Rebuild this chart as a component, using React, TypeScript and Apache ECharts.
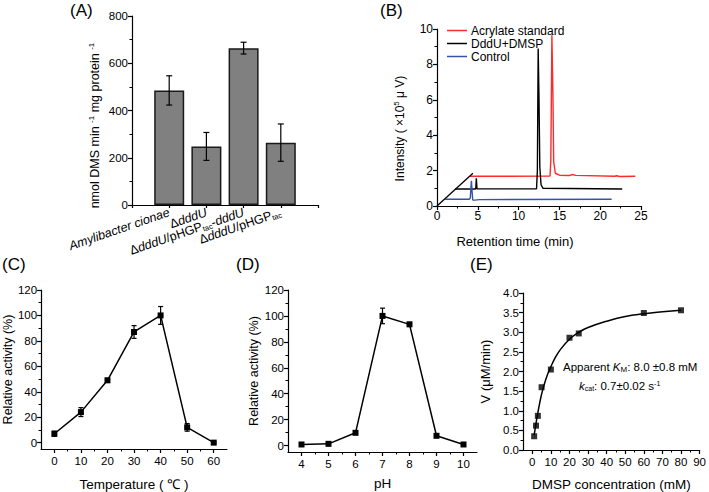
import React, { useEffect, useRef } from 'react';
import * as echarts from 'echarts';

const FONT = '"Liberation Sans", Arial, Helvetica, sans-serif';

// ---------- Panel A ----------
const strainLabels = ['Amylibacter cionae', 'ΔdddU', 'ΔdddU/pHGPtac-dddU', 'ΔdddU/pHGPtac'];
const strainPos = [1, 2, 3, 4];
const activityMean = [485, 248, 664, 264];
const activityErr = [62, 59, 25, 79];

// ---------- Panel B ----------
const acrylateTrace = [[4.05, 1.68], [13.85, 1.69], [13.95, 2.6], [14.08, 9.64], [14.2, 6.5], [14.3, 2.5], [14.5, 1.85], [15.0, 1.74], [16.2, 1.72], [16.6, 1.78], [17.0, 1.73], [21.8, 1.68], [22.0, 1.71], [22.4, 1.67], [24.3, 1.68]];
const dddUTrace = [[2.2, 0.96], [4.75, 0.96], [4.82, 1.57], [4.9, 0.97], [12.2, 0.97], [12.3, 2.0], [12.4, 8.9], [12.5, 6.0], [12.6, 2.2], [12.75, 1.2], [13.0, 1.0], [22.7, 0.96]];
const controlTrace = [[1.0, 0.38], [3.95, 0.38], [4.08, 0.45], [4.15, 1.0], [4.22, 1.42], [4.3, 0.8], [4.38, 0.34], [4.6, 0.33], [5.2, 0.36], [8.8, 0.37], [21.4, 0.38]];
const depthLine = [[0, 0], [4.4, 1.85]];

// ---------- Panel C ----------
const temperature = [0, 10, 20, 30, 40, 50, 60];
const tempActivity = [7, 24, 49, 87, 100, 12, 0];
const tempErr = [2, 3.5, 1.5, 5, 7, 3, 0.5];

// ---------- Panel D ----------
const pH = [4, 5, 6, 7, 8, 9, 10];
const pHActivity = [0.8, 1.3, 9.8, 100, 93.5, 7.5, 0.8];
const pHErr = [0.5, 0.5, 1, 6, 1.5, 0.8, 0.5];

// ---------- Panel E ----------
const dmsp = [1, 2, 3, 5, 10, 20, 25, 60, 80];
const velocity = [0.35, 0.62, 0.87, 1.6, 2.05, 2.86, 2.97, 3.49, 3.56];
const fitX = [1, 2, 3, 4, 5, 6, 8, 10, 12, 15, 20, 25, 30, 40, 50, 60, 70, 80];
const fitY = [0.38, 0.68, 0.95, 1.2, 1.42, 1.6, 1.9, 2.12, 2.32, 2.55, 2.82, 3.0, 3.12, 3.28, 3.4, 3.47, 3.52, 3.56];

function richStrain(s: string) {
  if (s === 'Amylibacter cionae') return `{i|${s}}`;
  return s
    .split(/(dddU|tac)/)
    .filter(Boolean)
    .map((p) => (p === 'dddU' ? '{i|dddU}' : p === 'tac' ? '{s|tac}' : `{n|${p}}`))
    .join('');
}

const LINE = { color: '#000', width: 1.2 };

function mainAxis(extra: any) {
  return {
    type: 'value',
    axisLine: { show: true, onZero: false, lineStyle: LINE },
    axisTick: { show: true, length: 4, lineStyle: LINE },
    axisLabel: { color: '#000', fontSize: 11, fontFamily: FONT, margin: 4 },
    splitLine: { show: false },
    nameLocation: 'middle',
    nameTextStyle: { color: '#000', fontSize: 13, fontFamily: FONT },
    ...extra,
  };
}

function minorAxis(gridIndex: number, min: number, max: number, values: number[], position: string) {
  return {
    type: 'value',
    gridIndex,
    min,
    max,
    position,
    offset: 0,
    axisLine: { show: false, onZero: false },
    axisLabel: { show: false },
    splitLine: { show: false },
    axisTick: { show: true, length: 2.5, customValues: values, lineStyle: { color: '#000', width: 1 } },
  };
}

const MINOR = { show: true, splitNumber: 2, length: 2.5, lineStyle: { color: '#000', width: 1 } };

function errorBars(xAxisIndex: number, yAxisIndex: number, xs: number[], ys: number[], errs: number[], cap: number) {
  return {
    type: 'custom',
    xAxisIndex,
    yAxisIndex,
    silent: true,
    z: 4,
    data: xs.map((x, i) => [x, ys[i] - errs[i], ys[i] + errs[i]]),
    encode: { x: 0, y: [1, 2] },
    renderItem: (params: any, api: any) => {
      const x = api.value(0);
      const p1 = api.coord([x, api.value(1)]);
      const p2 = api.coord([x, api.value(2)]);
      const st = { stroke: '#000', lineWidth: 1.2 };
      return {
        type: 'group',
        children: [
          { type: 'line', shape: { x1: p1[0], y1: p1[1], x2: p2[0], y2: p2[1] }, style: st },
          { type: 'line', shape: { x1: p1[0] - cap, y1: p1[1], x2: p1[0] + cap, y2: p1[1] }, style: st },
          { type: 'line', shape: { x1: p2[0] - cap, y1: p2[1], x2: p2[0] + cap, y2: p2[1] }, style: st },
        ],
      };
    },
  };
}

function range(a: number, b: number, step: number) {
  const out: number[] = [];
  for (let v = a; v <= b + 1e-9; v += step) out.push(Math.round(v * 1000) / 1000);
  return out;
}

function buildOption() {
  const cMajX = range(0, 60, 10);
  const cMajY = range(0, 120, 20);
  const dMajX = range(4, 10, 1);
  const eMajX = range(0, 90, 10);

  const xAxis: any[] = [
    // 0: A
    mainAxis({
      gridIndex: 0, min: 0, max: 5, interval: 1, position: 'bottom',
      axisTick: { show: true, length: 3, lineStyle: LINE },
      axisLabel: {
        color: '#000', fontSize: 12.5, fontFamily: FONT, rotate: 19, margin: 7,
        formatter: (v: number) => {
          const i = strainPos.indexOf(v);
          return i < 0 ? '' : richStrain(strainLabels[i]);
        },
        rich: {
          i: { fontStyle: 'italic', fontSize: 12.5, fontFamily: FONT, color: '#000' },
          n: { fontSize: 12.5, fontFamily: FONT, color: '#000' },
          s: { fontSize: 7.5, fontFamily: FONT, color: '#000', verticalAlign: 'bottom', padding: [6, 0, 0, 0] },
        },
      },
    }),
    // 1: B
    mainAxis({
      gridIndex: 1, min: 0, max: 25, interval: 5, position: 'bottom', minorTick: MINOR,
      name: 'Retention time (min)', nameGap: 29,
      nameTextStyle: { color: '#000', fontSize: 13, fontFamily: FONT, padding: [0, 48, 0, 0] },
      axisLabel: { color: '#000', fontSize: 12, fontFamily: FONT, margin: 4 },
    }),
    // 2: C main
    mainAxis({
      gridIndex: 2, min: -5, max: 65, position: 'bottom',
      axisTick: { show: true, length: 4, lineStyle: LINE, customValues: cMajX },
      axisLabel: { color: '#000', fontSize: 11.5, fontFamily: FONT, margin: 6, customValues: cMajX },
      name: 'Temperature ( ℃ )', nameGap: 28,
      nameTextStyle: { color: '#000', fontSize: 13.5, fontFamily: FONT },
    }),
    // 3: C minor
    minorAxis(2, -5, 65, range(5, 55, 10), 'bottom'),
    // 4: D main
    mainAxis({
      gridIndex: 3, min: 3.5, max: 10.5, position: 'bottom',
      axisTick: { show: true, length: 4, lineStyle: LINE, customValues: dMajX },
      axisLabel: { color: '#000', fontSize: 11.5, fontFamily: FONT, margin: 6, customValues: dMajX },
      name: 'pH', nameGap: 24,
      nameTextStyle: { color: '#000', fontSize: 13.5, fontFamily: FONT },
    }),
    // 5: D minor
    minorAxis(3, 3.5, 10.5, range(4.5, 9.5, 1), 'bottom'),
    // 6: E main
    mainAxis({
      gridIndex: 4, min: -5, max: 90, position: 'bottom',
      axisTick: { show: true, length: 4, lineStyle: LINE, customValues: eMajX },
      axisLabel: { color: '#000', fontSize: 11.5, fontFamily: FONT, margin: 6, customValues: eMajX },
      name: 'DMSP concentration (mM)', nameGap: 27,
      nameTextStyle: { color: '#000', fontSize: 13.5, fontFamily: FONT },
    }),
    // 7: E minor
    minorAxis(4, -5, 90, range(5, 85, 10), 'bottom'),
  ];

  const yAxis: any[] = [
    // 0: A
    mainAxis({
      gridIndex: 0, min: 0, max: 800, interval: 200, position: 'left', minorTick: MINOR,
      axisLabel: { color: '#000', fontSize: 11.5, fontFamily: FONT, margin: 4 },
      name: '{n|nmol DMS min }{sup|-1}{n| mg protein }{sup|-1}', nameGap: 30,
      nameTextStyle: {
        color: '#000', fontSize: 12.5, fontFamily: FONT, padding: [0, 30, 0, 0],
        rich: {
          n: { fontSize: 12.5, fontFamily: FONT, color: '#000' },
          sup: { fontSize: 8, fontFamily: FONT, color: '#000', verticalAlign: 'top', padding: [0, 0, 7, 0] },
        },
      },
    }),
    // 1: B
    mainAxis({
      gridIndex: 1, min: 0, max: 10, interval: 2, position: 'left', minorTick: MINOR,
      axisLabel: { color: '#000', fontSize: 12, fontFamily: FONT, margin: 4 },
      name: '{n|Intensity ( ×10}{sup|5}{n| μ V)}', nameGap: 30,
      nameTextStyle: {
        color: '#000', fontSize: 12, fontFamily: FONT, padding: [0, 22, 0, 0],
        rich: {
          n: { fontSize: 12, fontFamily: FONT, color: '#000' },
          sup: { fontSize: 8, fontFamily: FONT, color: '#000', verticalAlign: 'top', padding: [0, 0, 7, 0] },
        },
      },
    }),
    // 2: C main
    mainAxis({
      gridIndex: 2, min: -5, max: 120, position: 'left',
      axisTick: { show: true, length: 4, lineStyle: LINE, customValues: cMajY },
      axisLabel: { color: '#000', fontSize: 11.5, fontFamily: FONT, margin: 4, customValues: cMajY },
      name: 'Relative activity (%)', nameGap: 24,
      nameTextStyle: { color: '#000', fontSize: 12.5, fontFamily: FONT },
    }),
    // 3: C minor
    minorAxis(2, -5, 120, range(10, 110, 20), 'left'),
    // 4: D main
    mainAxis({
      gridIndex: 3, min: -5, max: 120, position: 'left',
      axisTick: { show: true, length: 4, lineStyle: LINE, customValues: cMajY },
      axisLabel: { color: '#000', fontSize: 11.5, fontFamily: FONT, margin: 4, customValues: cMajY },
      name: 'Relative activity (%)', nameGap: 24,
      nameTextStyle: { color: '#000', fontSize: 12.5, fontFamily: FONT },
    }),
    // 5: D minor
    minorAxis(3, -5, 120, range(10, 110, 20), 'left'),
    // 6: E
    mainAxis({
      gridIndex: 4, min: 0, max: 4, interval: 0.5, position: 'left', minorTick: MINOR,
      axisLabel: { color: '#000', fontSize: 11.5, fontFamily: FONT, margin: 4, formatter: (v: number) => v.toFixed(1) },
      name: 'V (μM/min)', nameGap: 31,
      nameTextStyle: { color: '#000', fontSize: 13, fontFamily: FONT },
    }),
  ];

  const series: any[] = [
    // A bars
    {
      type: 'bar', xAxisIndex: 0, yAxisIndex: 0, barWidth: 30,
      data: strainPos.map((x, i) => [x, activityMean[i]]),
      itemStyle: { color: '#808080', borderColor: '#1a1a1a', borderWidth: 1.5 },
      z: 2,
    },
    errorBars(0, 0, strainPos, activityMean, activityErr, 3),
    // B traces
    {
      name: 'Acrylate standard', type: 'line', xAxisIndex: 1, yAxisIndex: 1, data: acrylateTrace,
      showSymbol: false, symbol: 'none', lineStyle: { color: '#ff2a2a', width: 1.4 }, itemStyle: { color: '#ff2a2a' },
    },
    {
      name: 'DddU+DMSP', type: 'line', xAxisIndex: 1, yAxisIndex: 1, data: dddUTrace,
      showSymbol: false, symbol: 'none', lineStyle: { color: '#000', width: 1.4 }, itemStyle: { color: '#000' },
    },
    {
      name: 'Control', type: 'line', xAxisIndex: 1, yAxisIndex: 1, data: controlTrace,
      showSymbol: false, symbol: 'none', lineStyle: { color: '#3552a8', width: 1.4 }, itemStyle: { color: '#3552a8' },
    },
    {
      type: 'line', xAxisIndex: 1, yAxisIndex: 1, data: depthLine,
      showSymbol: false, symbol: 'none', lineStyle: { color: '#000', width: 1.3 },
    },
    // C
    errorBars(2, 2, temperature, tempActivity, tempErr, 2.5),
    {
      type: 'line', xAxisIndex: 2, yAxisIndex: 2, data: temperature.map((x, i) => [x, tempActivity[i]]),
      symbol: 'rect', symbolSize: 6, lineStyle: { color: '#000', width: 1.5 }, itemStyle: { color: '#000' }, z: 5,
    },
    // D
    errorBars(4, 4, pH, pHActivity, pHErr, 2.5),
    {
      type: 'line', xAxisIndex: 4, yAxisIndex: 4, data: pH.map((x, i) => [x, pHActivity[i]]),
      symbol: 'rect', symbolSize: 6, lineStyle: { color: '#000', width: 1.5 }, itemStyle: { color: '#000' }, z: 5,
    },
    // E
    {
      type: 'line', xAxisIndex: 6, yAxisIndex: 6, data: fitX.map((x, i) => [x, fitY[i]]),
      smooth: true, showSymbol: false, symbol: 'none', lineStyle: { color: '#000', width: 1.5 },
    },
    {
      type: 'scatter', xAxisIndex: 6, yAxisIndex: 6, data: dmsp.map((x, i) => [x, velocity[i]]),
      symbol: 'rect', symbolSize: 6, itemStyle: { color: '#000' }, z: 5,
    },
  ];

  const title = (t: string, x: number, y: number) => ({
    type: 'text', x, y,
    style: { text: t, fontSize: 17, fontFamily: FONT, fill: '#000' },
  });

  return {
    animation: false,
    backgroundColor: '#fff',
    grid: [
      { left: 132, top: 16, width: 186, height: 189 },
      { left: 437, top: 29, width: 204, height: 177 },
      { left: 41, top: 290, width: 186, height: 160 },
      { left: 288, top: 290, width: 189, height: 162 },
      { left: 523, top: 293, width: 181, height: 157 },
    ],
    xAxis,
    yAxis,
    legend: {
      data: ['Acrylate standard', 'DddU+DMSP', 'Control'],
      orient: 'vertical', left: 442, top: 19, itemGap: 0, itemWidth: 20, itemHeight: 1.5, icon: 'rect',
      textStyle: { color: '#000', fontSize: 12, fontFamily: FONT, lineHeight: 13, padding: [0, 0, 0, -1] },
      selectedMode: false,
    },
    series,
    graphic: [
      title('(A)', 70, 2),
      title('(B)', 380, 2),
      title('(C)', 2, 256),
      title('(D)', 236, 256),
      title('(E)', 470, 256),
      {
        type: 'text', x: 563, y: 360,
        style: {
          text: '{n|Apparent }{i|K}{sub|M}{n|: 8.0 ±0.8 mM}',
          fill: '#000', fontSize: 11.5, fontFamily: FONT,
          rich: {
            n: { fontSize: 11.5, fontFamily: FONT, fill: '#000' },
            i: { fontSize: 11.5, fontFamily: FONT, fontStyle: 'italic', fill: '#000' },
            sub: { fontSize: 8, fontFamily: FONT, fill: '#000', verticalAlign: 'bottom', padding: [5, 0, 0, 0] },
          },
        },
      },
      {
        type: 'text', x: 579, y: 380,
        style: {
          text: '{i|k}{sub|cat}{n|: 0.7±0.02 s}{sup|-1}',
          fill: '#000', fontSize: 11.5, fontFamily: FONT,
          rich: {
            n: { fontSize: 11.5, fontFamily: FONT, fill: '#000' },
            i: { fontSize: 11.5, fontFamily: FONT, fontStyle: 'italic', fill: '#000' },
            sub: { fontSize: 7, fontFamily: FONT, fill: '#000', verticalAlign: 'bottom', padding: [5, 0, 0, 0] },
            sup: { fontSize: 7, fontFamily: FONT, fill: '#000', verticalAlign: 'top', padding: [0, 0, 5, 0] },
          },
        },
      },
    ],
  };
}

export default function App() {
  const ref = useRef<HTMLDivElement>(null);
  useEffect(() => {
    document.body.style.margin = '0';
    const chart = echarts.init(ref.current!, null, { renderer: 'svg' });
    chart.setOption(buildOption() as any);
    return () => chart.dispose();
  }, []);
  return <div ref={ref} style={{ width: 709, height: 492, background: '#fff' }} />;
}
